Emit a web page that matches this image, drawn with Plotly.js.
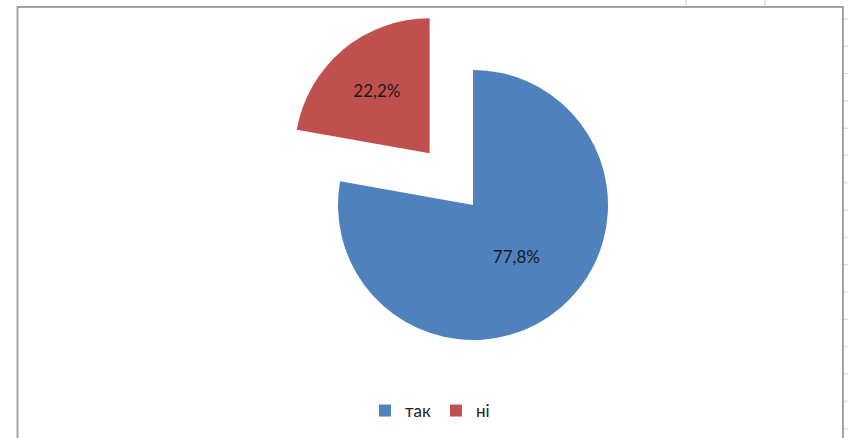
<!DOCTYPE html>
<html>
<head>
<meta charset="utf-8">
<script src="https://cdn.plot.ly/plotly-3.0.1.min.js"></script>
<style>
  html, body { margin: 0; padding: 0; background: #ffffff; }
  #chart { width: 848px; height: 438px; }
</style>
</head>
<body>
<div id="chart"></div>
<script>
// Data
var labels = ['так', 'ні'];
var values = [77.8, 22.2];
var sliceColors = ['#4F81BD', '#C0504D'];
var pulls = [0, 0.5];

var W = 848, H = 438;

// decorative spreadsheet grid fragments outside the chart frame
var shapes = [];
for (var k = 0; k < 16; k++) {
  var yy = 19 + k * 27.3;
  shapes.push({type: 'line', xref: 'paper', yref: 'paper',
    x0: 844 / W, x1: 1, y0: 1 - yy / H, y1: 1 - yy / H,
    line: {color: '#d4d4d4', width: 1}});
}
[686, 765].forEach(function (xx) {
  shapes.push({type: 'line', xref: 'paper', yref: 'paper',
    x0: xx / W, x1: xx / W, y0: 1, y1: 1 - 6 / H,
    line: {color: '#d4d4d4', width: 1}});
});
// chart frame
shapes.push({type: 'rect', xref: 'paper', yref: 'paper',
  x0: 17.5 / W, x1: 843 / W, y0: 1 - 7 / H, y1: -0.05,
  line: {color: '#a3a3a3', width: 2}});

var trace = {
  type: 'pie',
  labels: labels,
  values: values,
  sort: false,
  direction: 'clockwise',
  rotation: 0,
  pull: pulls,
  marker: {colors: sliceColors, line: {width: 0}},
  textinfo: 'none',
  texttemplate: '%{percent:.1%}',
  textposition: 'inside',
  insidetextorientation: 'horizontal',
  insidetextfont: {family: 'Lato, "Open Sans", sans-serif', size: 17, color: '#1a1a1a'},
  hoverinfo: 'skip',
  domain: {x: [270.5 / W, 675.5 / W], y: [30.5 / H, 435.5 / H]}
};

var layout = {
  width: W,
  height: H,
  margin: {l: 0, r: 0, t: 0, b: 0},
  paper_bgcolor: '#ffffff',
  plot_bgcolor: '#ffffff',
  separators: ', ',
  showlegend: true,
  legend: {
    orientation: 'h',
    x: 430 / W, xanchor: 'center',
    y: 1 - 411 / H, yanchor: 'middle',
    font: {family: 'Lato, "Open Sans", sans-serif', size: 17, color: '#222222'},
    itemwidth: 30,
    bgcolor: 'rgba(0,0,0,0)'
  },
  shapes: shapes
};

Plotly.newPlot('chart', [trace], layout, {staticPlot: true, displayModeBar: false});
</script>
</body>
</html>
